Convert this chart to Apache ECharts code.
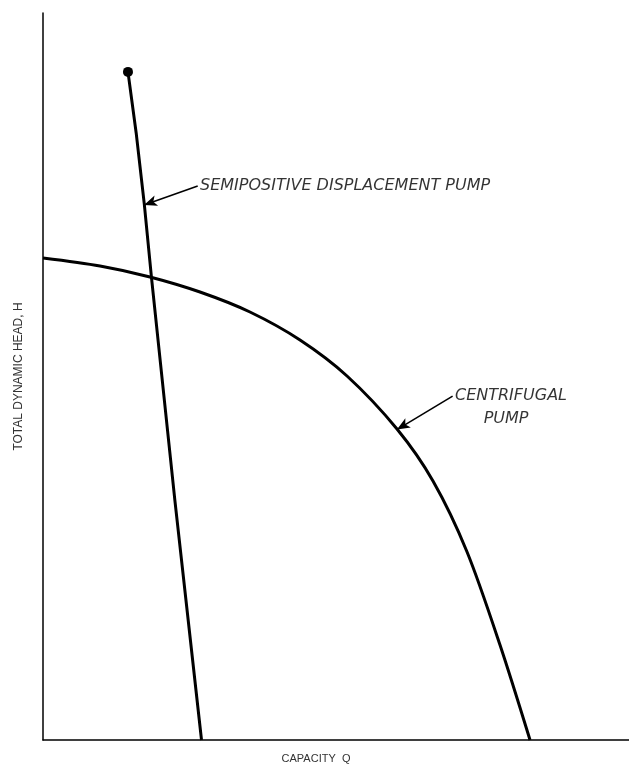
<!DOCTYPE html>
<html>
<head>
<meta charset="utf-8">
<script src="https://cdn.jsdelivr.net/npm/echarts@6/dist/echarts.min.js"></script>
<style>html,body{margin:0;padding:0;background:#fff}#c{width:629px;height:773px}</style>
</head>
<body>
<div id="c"></div>
<script>
// Capacity Q (relative units) vs Total dynamic head H (relative units)
var semipositiveQ = [14.5, 15.9, 17.3, 18.5, 22.5, 27.05];
var semipositiveH = [91.9, 83.5, 73.6, 63.7, 33.0, 0];
var centrifugalQ = [0, 9.73, 18.26, 26.79, 35.32, 43.86, 51.88, 60.41, 66.55, 72.35, 77.99, 83.11];
var centrifugalH = [66.3, 65.2, 63.69, 61.62, 58.87, 55.02, 50.07, 42.78, 35.63, 25.9, 13.07, 0];
var labelTexts = ['SEMIPOSITIVE DISPLACEMENT PUMP', 'CENTRIFUGAL', 'PUMP'];
var labelQ = [26.8, 70.3, 75.2];
var labelH = [76.2, 47.3, 44.2];
var arrowFrom = [[26.4, 76.2], [69.9, 47.3]];
var arrowTo = [[17.25, 73.6], [60.4, 42.7]];

function zip(a, b) { return a.map(function (v, i) { return [v, b[i]]; }); }

var chart = echarts.init(document.getElementById('c'));
chart.setOption({
  animation: false,
  grid: { left: 43, right: 0, top: 13, bottom: 33 },
  xAxis: {
    type: 'value', min: 0, max: 100,
    name: 'CAPACITY  Q', nameLocation: 'middle', nameGap: 13,
    nameTextStyle: { color: '#333', fontSize: 11, fontFamily: 'Liberation Sans', padding: [0, 40, 0, 0] },
    axisLine: { lineStyle: { color: '#000', width: 1.5 } },
    axisTick: { show: false }, axisLabel: { show: false }, splitLine: { show: false }
  },
  yAxis: {
    type: 'value', min: 0, max: 100,
    name: 'TOTAL DYNAMIC HEAD, H', nameLocation: 'middle', nameGap: 18, nameRotate: 90,
    nameTextStyle: { color: '#333', fontSize: 12, fontFamily: 'Liberation Sans' },
    axisLine: { lineStyle: { color: '#000', width: 1.5 } },
    axisTick: { show: false }, axisLabel: { show: false }, splitLine: { show: false }
  },
  series: [
    {
      name: 'Semipositive displacement pump', type: 'line',
      data: zip(semipositiveQ, semipositiveH),
      symbol: 'none', lineStyle: { color: '#000', width: 3 },
      markPoint: {
        symbol: 'circle', symbolSize: 10, itemStyle: { color: '#000' }, label: { show: false },
        data: [{ coord: [semipositiveQ[0], semipositiveH[0]] }]
      }
    },
    {
      name: 'Centrifugal pump', type: 'line', smooth: 0.3,
      data: zip(centrifugalQ, centrifugalH),
      symbol: 'none', lineStyle: { color: '#000', width: 3 }
    },
    {
      name: 'labels', type: 'scatter', symbolSize: 0,
      data: labelTexts.map(function (t, i) { return { value: [labelQ[i], labelH[i]], name: t }; }),
      label: {
        show: true, position: 'right', distance: 0, formatter: '{b}',
        color: '#000', fontSize: 16, fontStyle: 'italic', fontFamily: 'DejaVu Sans'
      },
      markLine: {
        silent: true, symbol: ['none', 'arrow'], symbolSize: [8, 13],
        lineStyle: { color: '#000', width: 1.6, type: 'solid', curveness: 0.3 },
        label: { show: false },
        data: arrowFrom.map(function (f, i) { return [{ coord: f }, { coord: arrowTo[i] }]; })
      }
    }
  ]
});
</script>
</body>
</html>
